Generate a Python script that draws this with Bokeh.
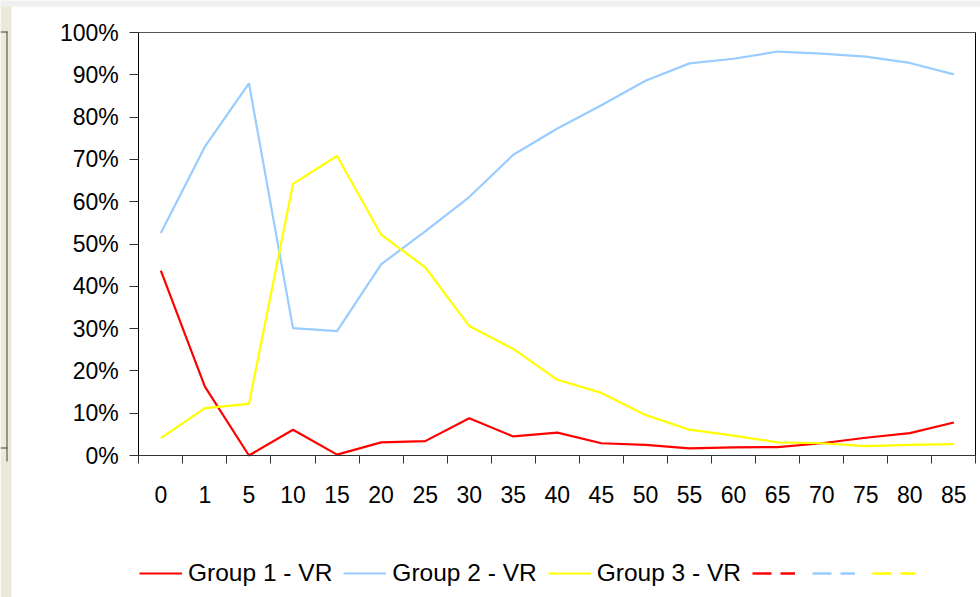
from bokeh.plotting import figure
from bokeh.models import (FixedTicker, NumeralTickFormatter, Legend, LegendItem,
                          ColumnDataSource, Range1d, BoxAnnotation, LinearAxis)
from bokeh.embed import file_html
from bokeh.resources import INLINE

categories = ["0", "1", "5", "10", "15", "20", "25", "30", "35", "40",
              "45", "50", "55", "60", "65", "70", "75", "80", "85"]
group1_vr = [43.7, 16.3, 0.0, 6.1, 0.2, 3.1, 3.4, 8.8, 4.5, 5.4,
             2.9, 2.5, 1.7, 1.9, 2.0, 2.9, 4.2, 5.3, 7.8]
group2_vr = [52.6, 73.0, 88.0, 30.1, 29.4, 45.2, 53.0, 61.1, 71.1, 77.3,
             82.8, 88.6, 92.7, 93.8, 95.5, 95.0, 94.3, 92.8, 90.1]
group3_vr = [4.1, 11.2, 12.2, 64.2, 70.8, 52.2, 44.5, 30.6, 25.2, 17.9,
             14.8, 9.6, 6.1, 4.7, 3.1, 2.9, 2.2, 2.5, 2.7]
# dashed series of the legend: no values are shown in the chart
dashed_series = [float("nan")] * len(categories)
y_ticks = [0.0, 0.1, 0.2, 0.3, 0.4, 0.5, 0.6, 0.7, 0.8, 0.9, 1.0]
series_names = ["Group 1 - VR", "Group 2 - VR", "Group 3 - VR"]
series_colors = ["#ff0000", "#99ccff", "#ffff00"]

FONT = "Liberation Sans"
FS = "23px"
FS_LEGEND = "24.5px"
W, H = 980, 597

n = len(categories)
xs = [i + 0.5 for i in range(n)]

# plot area occupies screen x 138.3..975.4, y 32..455; frame covers the canvas
PX_L, PX_R, PY_T, PY_B = 138.3, 975.4, 32.0, 455.0
dx = (PX_R - PX_L) / n
dy = (PY_B - PY_T) / 1.0
x_range = Range1d(-PX_L / dx, n + (W - PX_R) / dx)
y_range = Range1d(-(H - PY_B) / dy, 1.0 + PY_T / dy)

p = figure(width=W, height=H, output_backend="svg", toolbar_location=None,
           x_range=x_range, y_range=y_range, x_axis_location=None,
           y_axis_location=None, min_border=0, min_border_left=0,
           min_border_right=0, min_border_top=0, min_border_bottom=0)
p.grid.visible = False
p.background_fill_color = "white"
p.border_fill_color = "white"
p.outline_line_color = None


def chrome_box(x0, x1, y0, y1, color):
    # screen box given top-down pixel rows; screen y of annotations is bottom-up
    p.add_layout(BoxAnnotation(left=x0, right=x1, top=H - y0, bottom=H - y1,
                               left_units="screen", right_units="screen",
                               top_units="screen", bottom_units="screen",
                               fill_color=color, fill_alpha=1, line_color=None,
                               level="underlay"))


# window chrome around the chart
chrome_box(0, 11, 0, H, "#ece9d8")
chrome_box(0, W, 0, 6, "#f0f0f0")
chrome_box(6, 7, 31, 461, "#404040")
chrome_box(0, 7, 31, 32, "#404040")
chrome_box(0, 7, 447, 448, "#404040")

src = ColumnDataSource(dict(x=xs,
                            g1=[v / 100 for v in group1_vr],
                            g2=[v / 100 for v in group2_vr],
                            g3=[v / 100 for v in group3_vr],
                            dash=dashed_series))

r1 = p.line("x", "g1", source=src, line_color=series_colors[0], line_width=2.2)
r2 = p.line("x", "g2", source=src, line_color=series_colors[1], line_width=2.2)
r3 = p.line("x", "g3", source=src, line_color=series_colors[2], line_width=2.2)

d1 = p.line("x", "dash", source=src, line_color=series_colors[0], line_width=2.4, line_dash="19 9")
d2 = p.line("x", "dash", source=src, line_color=series_colors[1], line_width=2.4, line_dash="19 9")
d3 = p.line("x", "dash", source=src, line_color=series_colors[2], line_width=2.4, line_dash="19 9")

# x axis: ticks between categories, labels at centers
xa = LinearAxis(fixed_location=0, bounds=(0, n))
xa.ticker = FixedTicker(ticks=xs, minor_ticks=list(range(n + 1)))
xa.major_label_overrides = {x: c for x, c in zip(xs, categories)}
xa.major_tick_out = 0
xa.major_tick_in = 0
xa.minor_tick_out = 8
xa.minor_tick_in = 0
xa.minor_tick_line_color = "#333333"
xa.axis_line_color = "#333333"
xa.major_label_standoff = 22
xa.major_label_text_font = FONT
xa.major_label_text_font_size = FS
xa.major_label_text_color = "black"
p.add_layout(xa, "below")

ya = LinearAxis(fixed_location=0, bounds=(0, 1))
ya.ticker = FixedTicker(ticks=y_ticks)
ya.formatter = NumeralTickFormatter(format="0%")
ya.major_tick_out = 9
ya.major_tick_in = 0
ya.minor_tick_out = 0
ya.minor_tick_in = 0
ya.axis_line_color = "black"
ya.major_tick_line_color = "#333333"
ya.major_label_standoff = 11
ya.major_label_text_font = FONT
ya.major_label_text_font_size = FS
ya.major_label_text_color = "black"
p.add_layout(ya, "left")

# plot-area border: top and right edges
top_edge = LinearAxis(fixed_location=1, bounds=(0, n), ticker=FixedTicker(ticks=[]),
                      major_label_text_font_size="0px", axis_line_color="#555555")
top_edge.major_tick_out = 0
top_edge.minor_tick_out = 0
p.add_layout(top_edge, "above")
right_edge = LinearAxis(fixed_location=n, bounds=(0, 1), ticker=FixedTicker(ticks=[]),
                        major_label_text_font_size="0px", axis_line_color="black")
right_edge.major_tick_out = 0
right_edge.minor_tick_out = 0
p.add_layout(right_edge, "right")

legend = Legend(items=[
    LegendItem(label=series_names[0], renderers=[r1]),
    LegendItem(label=series_names[1], renderers=[r2]),
    LegendItem(label=series_names[2], renderers=[r3]),
    LegendItem(label="\u200b", renderers=[d1]),
    LegendItem(label="\u200b", renderers=[d2]),
    LegendItem(label="\u200b", renderers=[d3]),
], orientation="horizontal", location=(139, 10),
    glyph_width=43, glyph_height=24, label_height=24, label_width=0,
    label_standoff=6, spacing=11, padding=0, margin=0,
    border_line_color=None, background_fill_alpha=0,
    label_text_font=FONT, label_text_font_size=FS_LEGEND, label_text_color="black")
p.add_layout(legend, "center")

open("out.html", "w").write(file_html(p, INLINE))
